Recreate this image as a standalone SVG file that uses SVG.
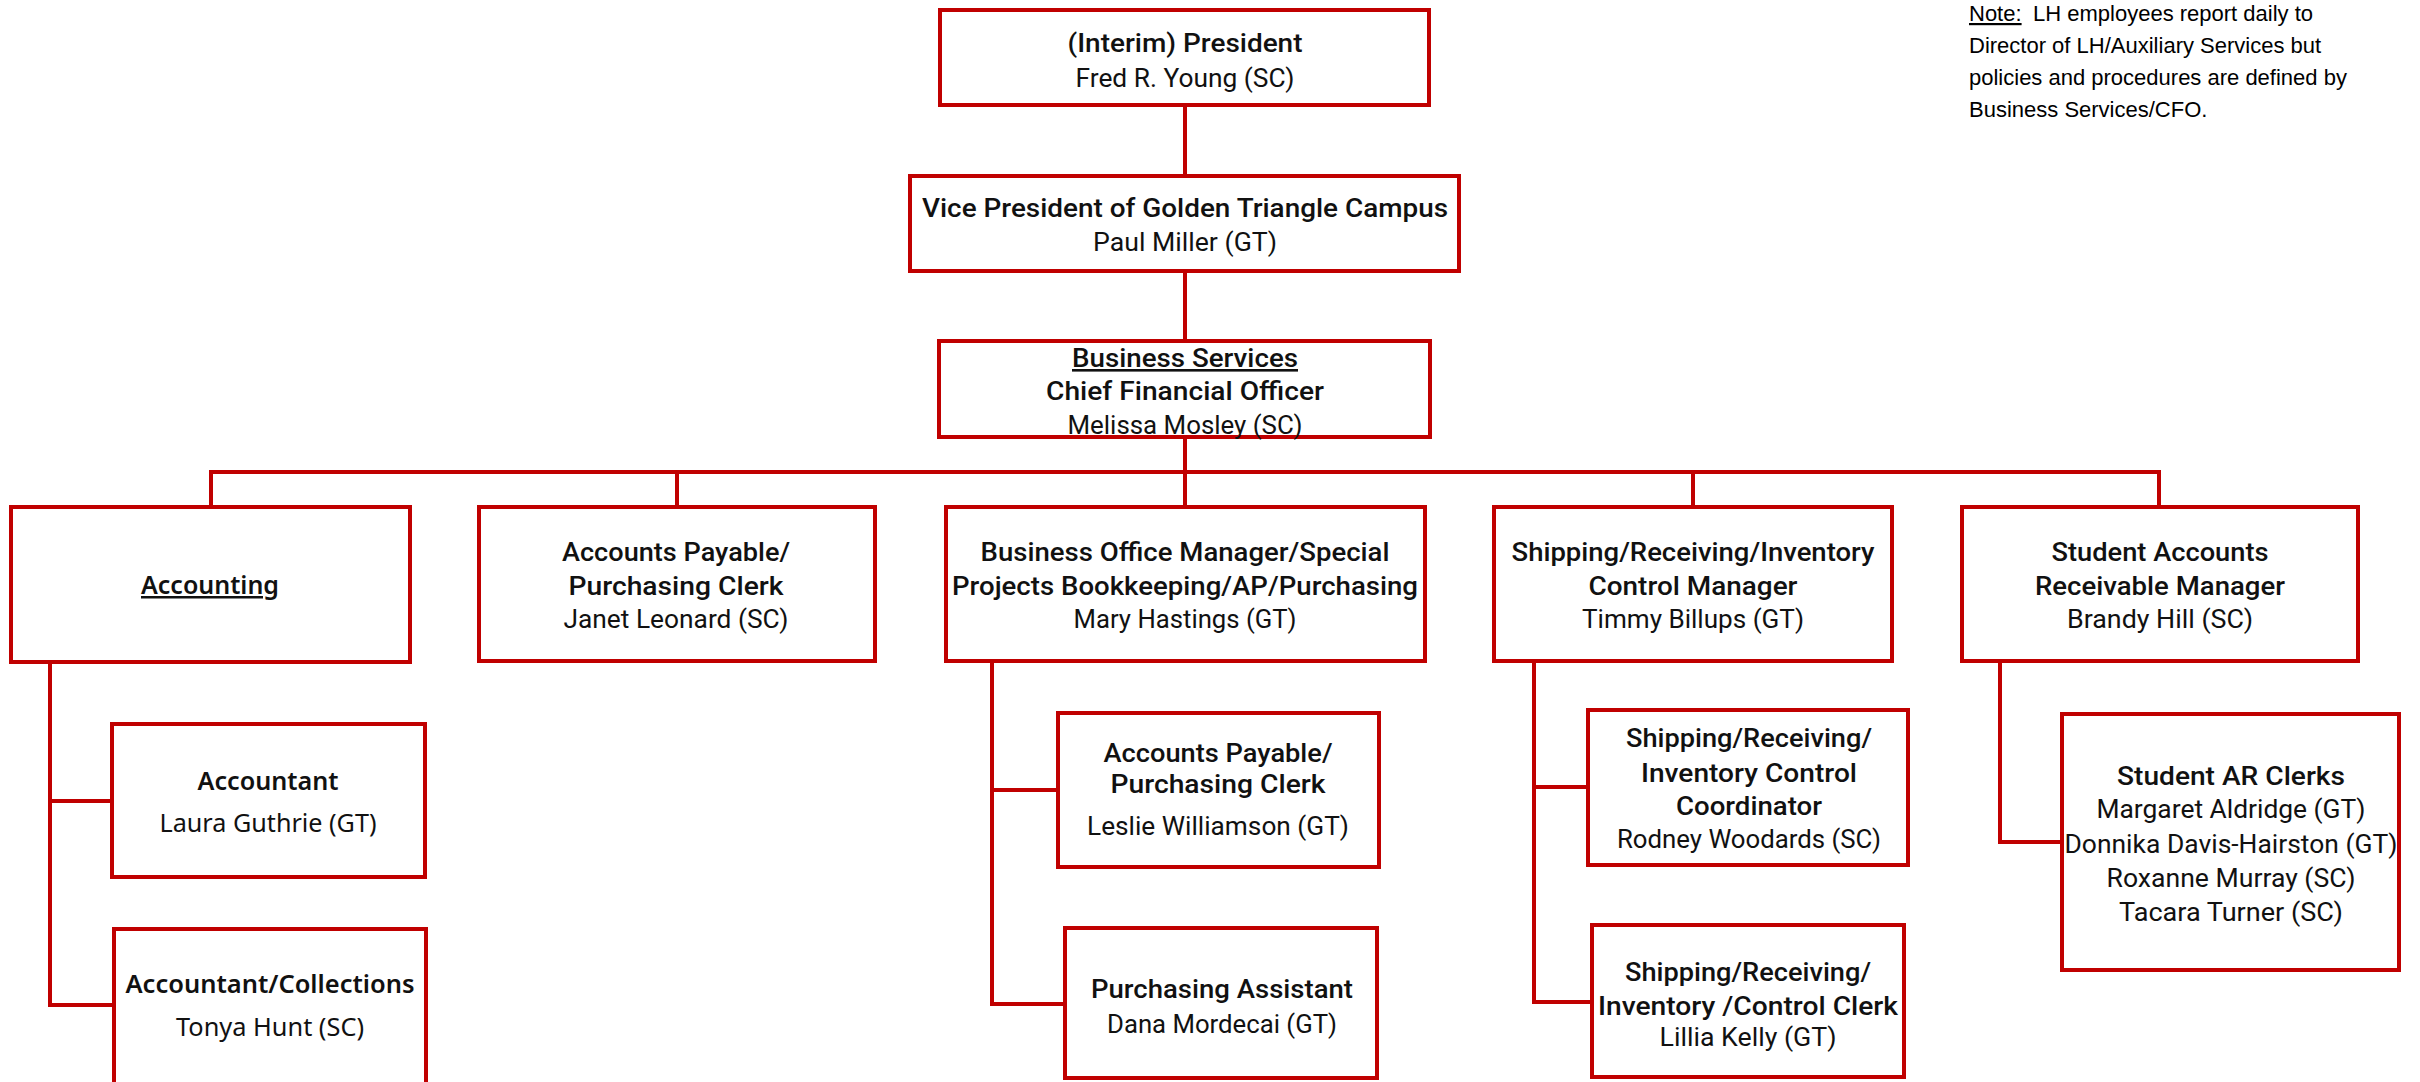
<svg xmlns="http://www.w3.org/2000/svg" width="2420" height="1082" viewBox="0 0 2420 1082">
<style>
.box{fill:#fff;stroke:#C00000;stroke-width:4}
.ln{fill:none;stroke:#C00000;stroke-width:4;stroke-linecap:square}
text{fill:#111;text-anchor:middle}
.t{font-family:Roboto,"DejaVu Sans",sans-serif;font-weight:500;font-size:26px}
.n{font-family:Roboto,"DejaVu Sans",sans-serif;font-weight:400;font-size:26px}
.hb{font-family:"Noto Sans","DejaVu Sans",sans-serif;font-weight:600;font-size:25px}
.hn{font-family:"Noto Sans","DejaVu Sans",sans-serif;font-weight:400;font-size:25px}
.u{text-decoration:underline}
.note{font-family:"Liberation Sans",Arial,sans-serif;font-size:22px;text-anchor:start;fill:#000}
</style>
<rect width="2420" height="1082" fill="#fff"/>
<g id="connectors">
<path class="ln" d="M1185 107V174M1185 273V339M1185 439V505M211 472H2159M211 472V505M677 472V505M1693 472V505M2159 472V505"/>
<path class="ln" d="M50 664V1005M50 801H110M50 1005H112"/>
<path class="ln" d="M992 663V1004M992 790H1056M992 1004H1063"/>
<path class="ln" d="M1534 663V1002M1534 787H1586M1534 1002H1590"/>
<path class="ln" d="M2000 663V842H2060"/>
</g>
<g id="president">
<rect class="box" x="940" y="10" width="489" height="95"/>
<text class="t" x="1185" y="52" textLength="235" lengthAdjust="spacingAndGlyphs">(Interim) President</text>
<text class="n" x="1185" y="87" textLength="219" lengthAdjust="spacingAndGlyphs">Fred R. Young (SC)</text>
</g>
<g id="vp">
<rect class="box" x="910" y="176" width="549" height="95"/>
<text class="t" x="1185" y="217" textLength="526" lengthAdjust="spacingAndGlyphs">Vice President of Golden Triangle Campus</text>
<text class="n" x="1185" y="251" textLength="184" lengthAdjust="spacingAndGlyphs">Paul Miller (GT)</text>
</g>
<g id="cfo">
<rect class="box" x="939" y="341" width="491" height="96"/>
<text class="t u" x="1185" y="367" textLength="226" lengthAdjust="spacingAndGlyphs">Business Services</text>
<text class="t" x="1185" y="400" textLength="278" lengthAdjust="spacingAndGlyphs">Chief Financial Officer</text>
<text class="n" x="1185" y="434" textLength="235" lengthAdjust="spacingAndGlyphs">Melissa Mosley (SC)</text>
</g>
<g id="accounting">
<rect class="box" x="11" y="507" width="399" height="155"/>
<text class="hb u" x="210" y="594" textLength="138" lengthAdjust="spacingAndGlyphs">Accounting</text>
</g>
<g id="ap-clerk">
<rect class="box" x="479" y="507" width="396" height="154"/>
<text class="t" x="676" y="561" textLength="228" lengthAdjust="spacingAndGlyphs">Accounts Payable/</text>
<text class="t" x="676" y="595" textLength="215" lengthAdjust="spacingAndGlyphs">Purchasing Clerk</text>
<text class="n" x="676" y="628" textLength="225" lengthAdjust="spacingAndGlyphs">Janet Leonard (SC)</text>
</g>
<g id="business-office">
<rect class="box" x="946" y="507" width="479" height="154"/>
<text class="t" x="1185" y="561" textLength="409" lengthAdjust="spacingAndGlyphs">Business Office Manager/Special</text>
<text class="t" x="1185" y="595" textLength="466" lengthAdjust="spacingAndGlyphs">Projects Bookkeeping/AP/Purchasing</text>
<text class="n" x="1185" y="628" textLength="223" lengthAdjust="spacingAndGlyphs">Mary Hastings (GT)</text>
</g>
<g id="shipping-manager">
<rect class="box" x="1494" y="507" width="398" height="154"/>
<text class="t" x="1693" y="561" textLength="363" lengthAdjust="spacingAndGlyphs">Shipping/Receiving/Inventory</text>
<text class="t" x="1693" y="595" textLength="209" lengthAdjust="spacingAndGlyphs">Control Manager</text>
<text class="n" x="1693" y="628" textLength="222" lengthAdjust="spacingAndGlyphs">Timmy Billups (GT)</text>
</g>
<g id="student-ar-manager">
<rect class="box" x="1962" y="507" width="396" height="154"/>
<text class="t" x="2160" y="561" textLength="217" lengthAdjust="spacingAndGlyphs">Student Accounts</text>
<text class="t" x="2160" y="595" textLength="250" lengthAdjust="spacingAndGlyphs">Receivable Manager</text>
<text class="n" x="2160" y="628" textLength="186" lengthAdjust="spacingAndGlyphs">Brandy Hill (SC)</text>
</g>
<g id="accountant">
<rect class="box" x="112" y="724" width="313" height="153"/>
<text class="hb" x="268" y="790" textLength="141" lengthAdjust="spacingAndGlyphs">Accountant</text>
<text class="hn" x="268" y="832" textLength="217" lengthAdjust="spacingAndGlyphs">Laura Guthrie (GT)</text>
</g>
<g id="accountant-collections">
<rect class="box" x="114" y="929" width="312" height="200"/>
<text class="hb" x="270" y="993" textLength="289" lengthAdjust="spacingAndGlyphs">Accountant/Collections</text>
<text class="hn" x="270" y="1036" textLength="188" lengthAdjust="spacingAndGlyphs">Tonya Hunt (SC)</text>
</g>
<g id="ap-clerk-2">
<rect class="box" x="1058" y="713" width="321" height="154"/>
<text class="t" x="1218" y="762" textLength="229" lengthAdjust="spacingAndGlyphs">Accounts Payable/</text>
<text class="t" x="1218" y="793" textLength="215" lengthAdjust="spacingAndGlyphs">Purchasing Clerk</text>
<text class="n" x="1218" y="835" textLength="262" lengthAdjust="spacingAndGlyphs">Leslie Williamson (GT)</text>
</g>
<g id="purchasing-assistant">
<rect class="box" x="1065" y="928" width="312" height="150"/>
<text class="t" x="1222" y="998" textLength="262" lengthAdjust="spacingAndGlyphs">Purchasing Assistant</text>
<text class="n" x="1222" y="1033" textLength="230" lengthAdjust="spacingAndGlyphs">Dana Mordecai (GT)</text>
</g>
<g id="shipping-coordinator">
<rect class="box" x="1588" y="710" width="320" height="155"/>
<text class="t" x="1749" y="747" textLength="246" lengthAdjust="spacingAndGlyphs">Shipping/Receiving/</text>
<text class="t" x="1749" y="782" textLength="216" lengthAdjust="spacingAndGlyphs">Inventory Control</text>
<text class="t" x="1749" y="815" textLength="146" lengthAdjust="spacingAndGlyphs">Coordinator</text>
<text class="n" x="1749" y="848" textLength="264" lengthAdjust="spacingAndGlyphs">Rodney Woodards (SC)</text>
</g>
<g id="shipping-clerk">
<rect class="box" x="1592" y="925" width="312" height="152"/>
<text class="t" x="1748" y="981" textLength="246" lengthAdjust="spacingAndGlyphs">Shipping/Receiving/</text>
<text class="t" x="1748" y="1015" textLength="300" lengthAdjust="spacingAndGlyphs">Inventory /Control Clerk</text>
<text class="n" x="1748" y="1046" textLength="177" lengthAdjust="spacingAndGlyphs">Lillia Kelly (GT)</text>
</g>
<g id="student-ar-clerks">
<rect class="box" x="2062" y="714" width="337" height="256"/>
<text class="t" x="2231" y="785" textLength="228" lengthAdjust="spacingAndGlyphs">Student AR Clerks</text>
<text class="n" x="2231" y="818" textLength="269" lengthAdjust="spacingAndGlyphs">Margaret Aldridge (GT)</text>
<text class="n" x="2231" y="853" textLength="333" lengthAdjust="spacingAndGlyphs">Donnika Davis-Hairston (GT)</text>
<text class="n" x="2231" y="887" textLength="249" lengthAdjust="spacingAndGlyphs">Roxanne Murray (SC)</text>
<text class="n" x="2231" y="921" textLength="224" lengthAdjust="spacingAndGlyphs">Tacara Turner (SC)</text>
</g>
<g id="note">
<text class="note" x="1969" y="21"><tspan class="u">Note:</tspan><tspan x="2033">LH employees report daily to</tspan></text>
<text class="note" x="1969" y="53">Director of LH/Auxiliary Services but</text>
<text class="note" x="1969" y="85">policies and procedures are defined by</text>
<text class="note" x="1969" y="117">Business Services/CFO.</text>
</g>
</svg>
